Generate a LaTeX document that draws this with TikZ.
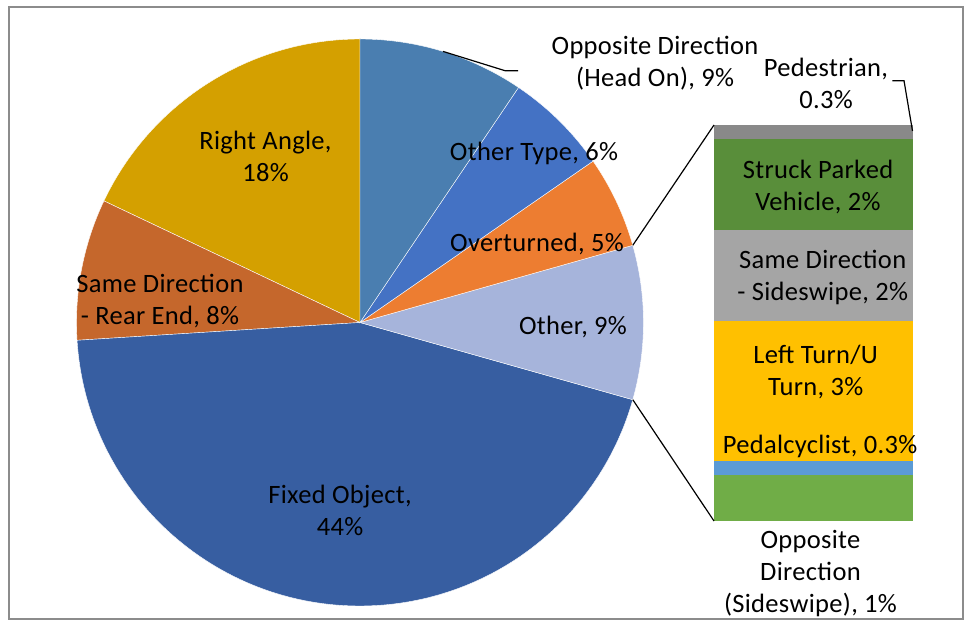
\documentclass[tikz,border=0pt]{standalone}
\usepackage{fontspec}
\setmainfont[LetterSpace=1.2]{Carlito}
\usepackage{xcolor}
\usetikzlibrary{positioning}

% slice and bar colours
\definecolor{fixedobj}{RGB}{55,94,161}
\definecolor{rearend}{RGB}{197,103,44}
\definecolor{rightangle}{RGB}{212,160,0}
\definecolor{headon}{RGB}{74,126,176}
\definecolor{othertype}{RGB}{68,114,196}
\definecolor{overturned}{RGB}{237,125,49}
\definecolor{otherslice}{RGB}{166,180,219}
\definecolor{pedgray}{RGB}{137,137,137}
\definecolor{parked}{RGB}{89,142,58}
\definecolor{sidegray}{RGB}{165,165,165}
\definecolor{leftturn}{RGB}{255,192,0}
\definecolor{pedal}{RGB}{91,155,213}
\definecolor{oppside}{RGB}{112,173,71}
\definecolor{framegray}{RGB}{140,140,140}

\begin{document}
\begin{tikzpicture}[x=1pt, y=1pt,
	font=\fontsize{26.5}{32}\selectfont,
	lbl/.style={align=center, inner sep=0pt, text=black},
	lead/.style={black, line width=1.2pt}]
	\useasboundingbox (0,0) rectangle (964,621);
	% chart frame
	\draw[framegray, line width=1.4pt] (9,2) rectangle (963,614);
	% pie: centre (360,298.5), radius 283.5, angles counter-clockwise
	\coordinate (c) at (360,298.5);
	\foreach \a/\b/\col in {90/154.6/rightangle, 154.6/183.6/rearend,
		183.6/344.2/fixedobj, -15.8/15.8/otherslice, 15.8/34.7/overturned,
		34.7/56/othertype, 56/90/headon}
	\filldraw[fill=\col, draw=white, line width=0.4pt]
	(c) -- ++(\a:283.5) arc[start angle=\a, end angle=\b, radius=283.5] -- cycle;
	% bar for the split-off part of "Other" (bottom to top)
	\foreach \lo/\hi/\col in {100/146/oppside, 146/160/pedal, 160/300/leftturn,
		300/391/sidegray, 391/482/parked, 482/496/pedgray}
	\fill[\col] (714,\lo) rectangle (912.5,\hi);
	% joins from the "Other" slice to the bar
	\path (c) ++(15.8:283.5) coordinate (cuttop);
	\path (c) ++(-15.8:283.5) coordinate (cutbot);
	\coordinate (barnw) at (714,496);
	\coordinate (barsw) at (714,100);
	\draw[lead] (cuttop) -- (barnw);
	\draw[lead] (cutbot) -- (barsw);
	% pie labels
	\node[lbl] (lblright) at (265.5,464.3) {Right Angle,\\18\%};
	\node[lbl] (lblrear) at (160,319.5) {Same Direction\\- Rear End, 8\%};
	\node[lbl] (lblfixed) at (340,111) {Fixed Object,\\44\%};
	\node[lbl] (lblother) at (573,293.7) {Other, 9\%};
	\node[lbl] (lblover) at (537,377) {Overturned, 5\%};
	\node[lbl] (lbltype) at (534,467.7) {Other Type, 6\%};
	\node[lbl] (lblheadon) at (655,558) {Opposite Direction\\(Head On), 9\%};
	% leader for the head-on slice
	\path (c) ++(73:283.5) coordinate (headonpt);
	\coordinate (headonend) at (518,550.3);
	\draw[lead] (headonpt) -- (505,550.3) -- (headonend);
	% bar labels
	\node[lbl] (lblped) at (826,537.3) {Pedestrian,\\0.3\%};
	\node[lbl] (lblparked) at (818,433.5) {Struck Parked\\Vehicle, 2\%};
	\node[lbl] (lblside) at (822.7,343.8) {Same Direction\\- Sideswipe, 2\%};
	\node[lbl] (lblleft) at (815.7,249.2) {Left Turn/U\\Turn, 3\%};
	\node[lbl] (lblpedal) at (820,174.3) {Pedalcyclist, 0.3\%};
	\node[lbl] (lbloppside) at (810.5,47) {Opposite\\Direction\\(Sideswipe), 1\%};
	% leader for the pedestrian band
	\coordinate (pedstart) at (892.3,540.3);
	\coordinate (pedband) at (912.5,490);
	\draw[lead] (pedstart) -- (904,540.3) -- (pedband);
\end{tikzpicture}
\end{document}
